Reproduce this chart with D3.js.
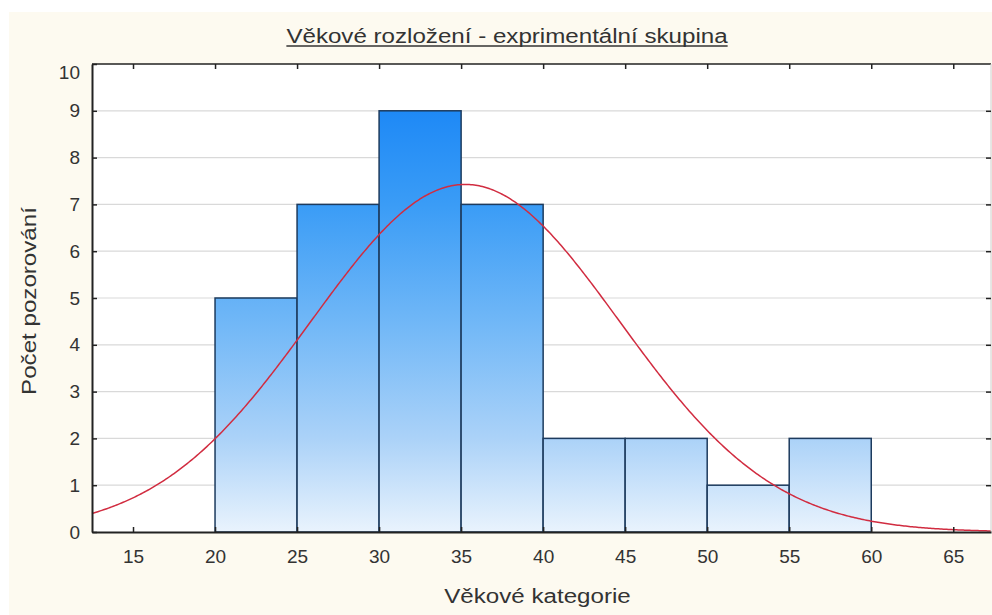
<!DOCTYPE html>
<html>
<head>
<meta charset="utf-8">
<script src="https://cdn.jsdelivr.net/npm/d3@7"></script>
<style>
  html, body { margin: 0; padding: 0; background: #ffffff; }
  svg { display: block; }
  text { font-family: "Liberation Sans", Arial, sans-serif; fill: #333333; }
</style>
</head>
<body>
<svg id="chart" width="992" height="615"></svg>
<script>
// Histogram bins (lower edge of each 5-year class) and observed counts
const binStarts = [20, 25, 30, 35, 40, 45, 50, 55];
const counts    = [5, 7, 9, 7, 2, 2, 1, 2];
const binWidth  = 5;

// Fitted normal curve parameters
const fitMean = 35.25;
const fitSd   = 9.4;

// Axis ticks
const xTicks = [15, 20, 25, 30, 35, 40, 45, 50, 55, 60, 65];
const yTicks = [0, 1, 2, 3, 4, 5, 6, 7, 8, 9, 10];

const titleText = "Věkové rozložení - exprimentální skupina";
const xLabel = "Věkové kategorie";
const yLabel = "Počet pozorování";

const W = 992, H = 615;
const plot = { left: 92, right: 991, top: 64, bottom: 532 };
const labelStretch = 1.15;   // wide rendering of the caption font

const svg = d3.select("#chart");

// page background
svg.append("rect").attr("x", 9).attr("y", 12).attr("width", W - 9).attr("height", H - 12)
  .attr("fill", "#fdfaf0");

const x = d3.scaleLinear().domain([12.5, 67.3]).range([plot.left, plot.right]);
const y = d3.scaleLinear().domain([0, 10]).range([plot.bottom, plot.top]);

// plot area
svg.append("rect")
  .attr("x", plot.left).attr("y", plot.top)
  .attr("width", plot.right - plot.left).attr("height", plot.bottom - plot.top)
  .attr("fill", "#ffffff");

// vertical gradient for bars, spanning the full value range
const defs = svg.append("defs");
const grad = defs.append("linearGradient")
  .attr("id", "barFill").attr("gradientUnits", "userSpaceOnUse")
  .attr("x1", 0).attr("x2", 0).attr("y1", y(10)).attr("y2", y(0));
[
  [0.0, "#1282f5"],
  [0.1, "#1e89f6"],
  [0.3, "#3a9cf6"],
  [0.55, "#70b7f7"],
  [0.8, "#abd2f8"],
  [1.0, "#e9f3fd"]
].forEach(([o, c]) => grad.append("stop").attr("offset", o).attr("stop-color", c));

// horizontal gridlines
svg.append("g").selectAll("line").data(yTicks.filter(v => v > 0 && v < 10)).join("line")
  .attr("x1", plot.left).attr("x2", plot.right)
  .attr("y1", d => y(d)).attr("y2", d => y(d))
  .attr("stroke", "#d9d9d9").attr("stroke-width", 1.2);

// bars
svg.append("g").selectAll("rect").data(binStarts).join("rect")
  .attr("x", d => x(d))
  .attr("width", d => x(d + binWidth) - x(d))
  .attr("y", (d, i) => y(counts[i]))
  .attr("height", (d, i) => y(0) - y(counts[i]))
  .attr("fill", "url(#barFill)")
  .attr("stroke", "#1d3b5e").attr("stroke-width", 1.5);

// normal curve
const nObs = d3.sum(counts);
const curvePts = d3.range(12.5, 67.31, 0.1).map(v => {
  const z = (v - fitMean) / fitSd;
  return [v, nObs * binWidth * Math.exp(-0.5 * z * z) / (fitSd * Math.sqrt(2 * Math.PI))];
});
svg.append("path")
  .datum(curvePts)
  .attr("d", d3.line().x(d => x(d[0])).y(d => y(d[1])))
  .attr("fill", "none").attr("stroke", "#d12c40").attr("stroke-width", 1.5);

// frame
const frame = svg.append("g");
frame.append("line").attr("x1", plot.left).attr("x2", plot.right).attr("y1", plot.top).attr("y2", plot.top)
  .attr("stroke", "#222").attr("stroke-width", 1.5);
frame.append("line").attr("x1", plot.right).attr("x2", plot.right).attr("y1", plot.top).attr("y2", plot.bottom)
  .attr("stroke", "#cfcfcf").attr("stroke-width", 1);

// axes with inward ticks
const xAxisB = d3.axisBottom(x).tickValues(xTicks).tickSizeInner(-5).tickSizeOuter(0).tickPadding(18);
const xAxisT = d3.axisTop(x).tickValues(xTicks).tickSizeInner(-5).tickSizeOuter(0).tickFormat("");
const yAxisL = d3.axisLeft(y).tickValues(yTicks).tickSizeInner(-5).tickSizeOuter(0).tickPadding(12);
const yAxisR = d3.axisRight(y).tickValues(yTicks.filter(v => v > 0 && v < 10)).tickSizeInner(-5).tickSizeOuter(0).tickFormat("");

function styleAxis(g) {
  g.select(".domain").attr("stroke", "#222").attr("stroke-width", 2);
  g.selectAll(".tick line").attr("stroke", "#222").attr("stroke-width", 1.5);
  g.selectAll(".tick text").attr("fill", "#333").style("font-size", "19px")
    .style("font-family", '"Liberation Sans", Arial, sans-serif');
}

svg.append("g").attr("transform", `translate(0,${plot.top})`).call(xAxisT).call(g => {
  g.select(".domain").remove();
  g.selectAll(".tick line").attr("stroke", "#222").attr("stroke-width", 1.5);
});
svg.append("g").attr("transform", `translate(${plot.right},0)`).call(yAxisR).call(g => {
  g.select(".domain").remove();
  g.selectAll(".tick line").attr("stroke", "#222").attr("stroke-width", 1.5);
});
svg.append("g").attr("transform", `translate(0,${plot.bottom})`).call(xAxisB).call(styleAxis);
svg.append("g").attr("transform", `translate(${plot.left},0)`).call(yAxisL).call(styleAxis)
  .call(g => g.selectAll(".tick text").filter(d => d === 10).attr("dy", "0.78em"));

// title with underline
const titleX = 507;
const title = svg.append("text")
  .attr("transform", `translate(${titleX},43) scale(${labelStretch},1)`)
  .attr("text-anchor", "middle")
  .style("font-size", "21px").text(titleText);
const tw = title.node().getComputedTextLength() * labelStretch;
svg.append("line")
  .attr("x1", titleX - tw / 2).attr("x2", titleX + tw / 2)
  .attr("y1", 46).attr("y2", 46)
  .attr("stroke", "#333").attr("stroke-width", 1.3);

// axis titles
svg.append("text")
  .attr("transform", `translate(${(plot.left + plot.right) / 2 - 4},603) scale(${labelStretch},1)`)
  .attr("text-anchor", "middle")
  .style("font-size", "21px").text(xLabel);
svg.append("text")
  .attr("transform", `translate(36,${(plot.top + plot.bottom) / 2 + 3}) rotate(-90) scale(${labelStretch},1)`)
  .attr("text-anchor", "middle")
  .style("font-size", "21px").text(yLabel);
</script>
</body>
</html>
